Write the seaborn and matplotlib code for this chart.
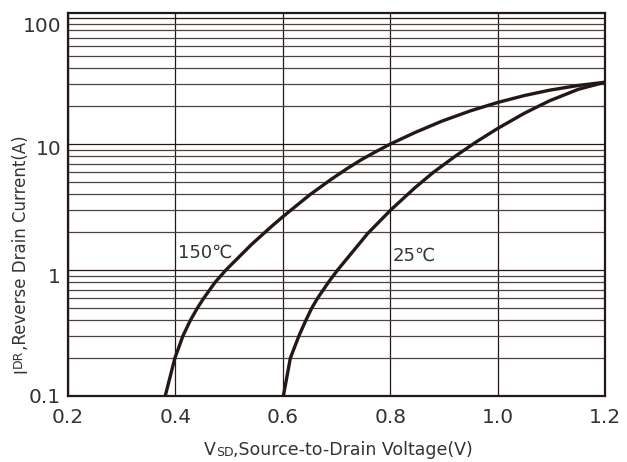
import matplotlib
matplotlib.use("Agg")
import matplotlib.pyplot as plt
import matplotlib.transforms as mtransforms
import seaborn as sns
import pandas as pd
from matplotlib.ticker import FixedLocator, NullFormatter

# ==========================================
# Data
# ==========================================
v_150 = [0.381, 0.399, 0.414, 0.428, 0.441, 0.453, 0.474, 0.494, 0.542,
         0.579, 0.600, 0.650, 0.690, 0.720, 0.747, 0.772, 0.800, 0.846,
         0.896, 0.950, 1.000, 1.050, 1.097, 1.150, 1.200]
i_150 = [0.1, 0.2, 0.3, 0.4, 0.5, 0.6, 0.8, 1.0, 1.6,
         2.22, 2.65, 3.95, 5.25, 6.4, 7.55, 8.65, 10.0, 12.35,
         15.2, 18.4, 21.4, 24.3, 26.8, 29.2, 31.0]

v_25 = [0.601, 0.614, 0.630, 0.643, 0.654, 0.665, 0.685, 0.702, 0.758,
        0.801, 0.846, 0.880, 0.920, 0.960, 1.000, 1.050, 1.097, 1.150, 1.200]
i_25 = [0.1, 0.2, 0.3, 0.4, 0.5, 0.6, 0.8, 1.0, 1.95,
        3.0, 4.5, 5.95, 7.95, 10.4, 13.3, 17.6, 22.1, 27.2, 31.0]

x_ticks = [0.2, 0.4, 0.6, 0.8, 1.0, 1.2]
x_tick_labels = ["0.2", "0.4", "0.6", "0.8", "1.0", "1.2"]
y_ticks = [0.1, 1, 10, 100]
y_tick_labels = ["0.1", "1", "10", "100"]
y_minor = [m * 10.0 ** d for d in (-1, 0, 1) for m in range(2, 10)]

df = pd.concat([
    pd.DataFrame({"V": v_150, "I": i_150, "T": "150"}),
    pd.DataFrame({"V": v_25, "I": i_25, "T": "25"}),
])

# ==========================================
# Plot
# ==========================================
sns.set_style("white")
plt.rcParams["font.family"] = ["DejaVu Sans"]

ink = "#231815"
txt = "#333333"
fig, ax = plt.subplots(figsize=(6.27, 4.62), dpi=100)
fig.subplots_adjust(left=0.1085, right=0.965, bottom=0.143, top=0.972)

for t in ["150", "25"]:
    sub = df[df["T"] == t]
    sns.lineplot(data=sub, x="V", y="I", ax=ax, color=ink, linewidth=2.4,
                 sort=False, estimator=None, solid_joinstyle="round",
                 solid_capstyle="butt")

ax.set_yscale("log")
ax.set_xlim(0.2, 1.2)
ax.set_ylim(0.1, 110)

ax.set_xticks(x_ticks)
ax.set_xticklabels(x_tick_labels)
ax.yaxis.set_major_locator(FixedLocator(y_ticks))
ax.set_yticklabels(y_tick_labels)
ax.yaxis.set_minor_locator(FixedLocator(y_minor))
ax.yaxis.set_minor_formatter(NullFormatter())
ax.tick_params(axis="both", which="both", length=0, labelsize=14.5,
               colors=txt)
ax.tick_params(axis="x", pad=9)
ax.tick_params(axis="y", pad=5)

# the y labels in the datasheet sit a little below their gridlines
for lbl, dy in zip(ax.get_yticklabels(), [0, -5, -3, -6]):
    lbl.set_transform(lbl.get_transform() +
                      mtransforms.ScaledTranslation(0, dy / 100, fig.dpi_scale_trans))

ax.grid(True, which="major", axis="both", color=ink, linewidth=0.9)
ax.grid(True, which="minor", axis="y", color="#4a4443", linewidth=0.9)
ax.set_axisbelow(True)
for s in ax.spines.values():
    s.set_color(ink)
    s.set_linewidth(1.6)

ax.set_xlabel("")
ax.set_ylabel("")

# curve labels
ax.text(0.405, 1.38, "150\u2103", fontsize=13, color=txt, va="center")
ax.text(0.805, 1.30, "25\u2103", fontsize=13, color=txt, va="center")

# axis titles with small-caps subscripts
t1 = fig.text(0.325, 0.016, "V", fontsize=12.5, va="baseline", color=txt)
t2 = ax.annotate("SD", xy=(1, 0), xycoords=t1, va="bottom", ha="left",
                 fontsize=9, color=txt)
ax.annotate(",Source-to-Drain Voltage(V)", xy=(1, 0), xycoords=t2,
            va="bottom", ha="left", fontsize=12.5, color=txt)

y1 = fig.text(0.019, 0.193, "I", fontsize=12, rotation=90, ha="left",
              va="bottom", color=txt)
y2 = ax.annotate("DR", xy=(0, 1), xycoords=y1, va="bottom", ha="left",
                 rotation=90, fontsize=9, color=txt)
ax.annotate(",Reverse Drain Current(A)", xy=(0, 1), xycoords=y2,
            va="bottom", ha="left", rotation=90, fontsize=12, color=txt)

plt.savefig("out.png", dpi=100)
